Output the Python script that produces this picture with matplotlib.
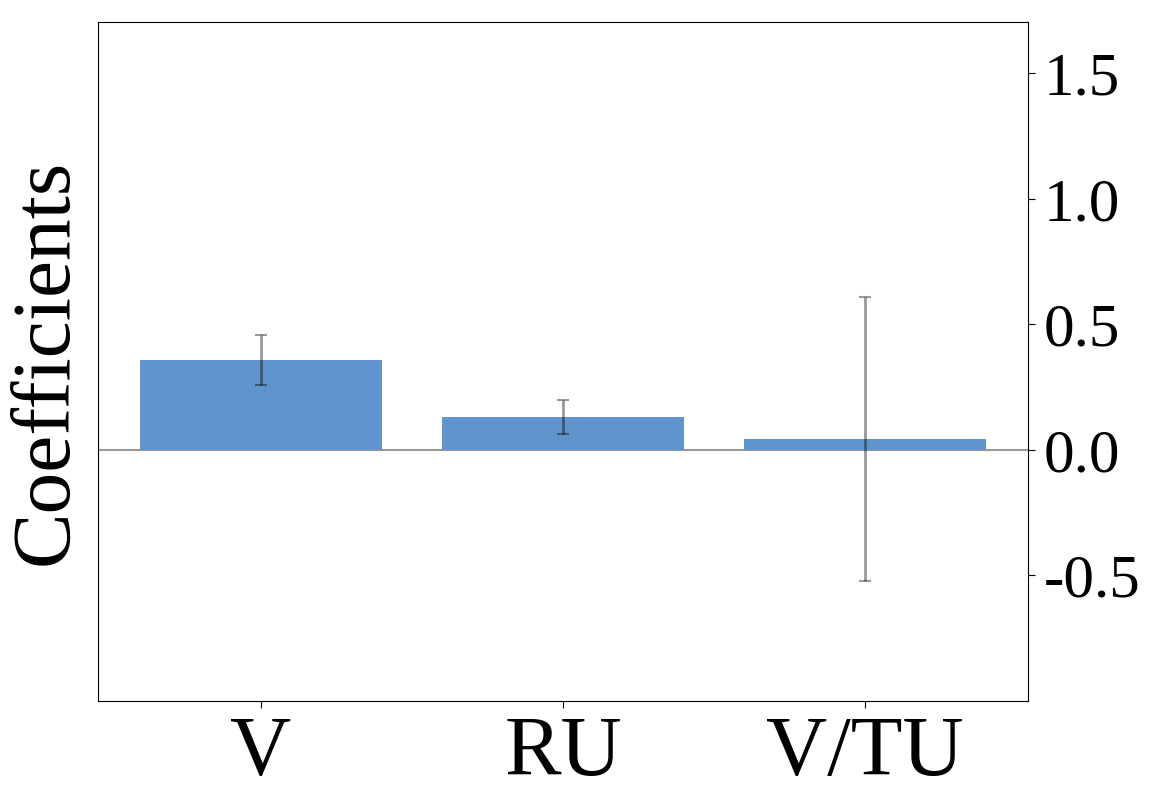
import numpy as np
import matplotlib
matplotlib.use("Agg")
import matplotlib.pyplot as plt

plt.rcParams['font.family'] = ['Liberation Serif', 'DejaVu Serif']

labels = ['V', 'RU', 'V/TU']
coefs = [0.358, 0.131, 0.044]
errs = [0.100, 0.068, 0.565]
yticks = [-0.5, 0.0, 0.5, 1.0, 1.5]

fig = plt.figure(figsize=(11.57, 8.07), dpi=100)
ax = fig.add_axes([98/1157, 106/807, 930/1157, 679/807])

x = np.arange(len(labels))
ax.bar(x, coefs, width=0.8, color='#6094cc')
ax.errorbar(x, coefs, yerr=errs, fmt='none', ecolor='black', alpha=0.4,
            capsize=4, elinewidth=2, capthick=1.5)
ax.axhline(0, color='#999999', lw=1.5, zorder=0)

ax.set_ylim(-1.0, 1.705)
ax.set_yticks(yticks)
ax.set_yticklabels(['%.1f' % t for t in yticks])
ax.yaxis.tick_right()
ax.set_xticks(x)
ax.set_xticklabels(labels)
ax.tick_params(axis='y', labelsize=44, length=5, pad=6)
ax.tick_params(axis='x', labelsize=61, length=5, pad=6)
ax.set_ylabel('Coefficients', fontsize=60, labelpad=10)

fig.savefig('out.png', dpi=100)
